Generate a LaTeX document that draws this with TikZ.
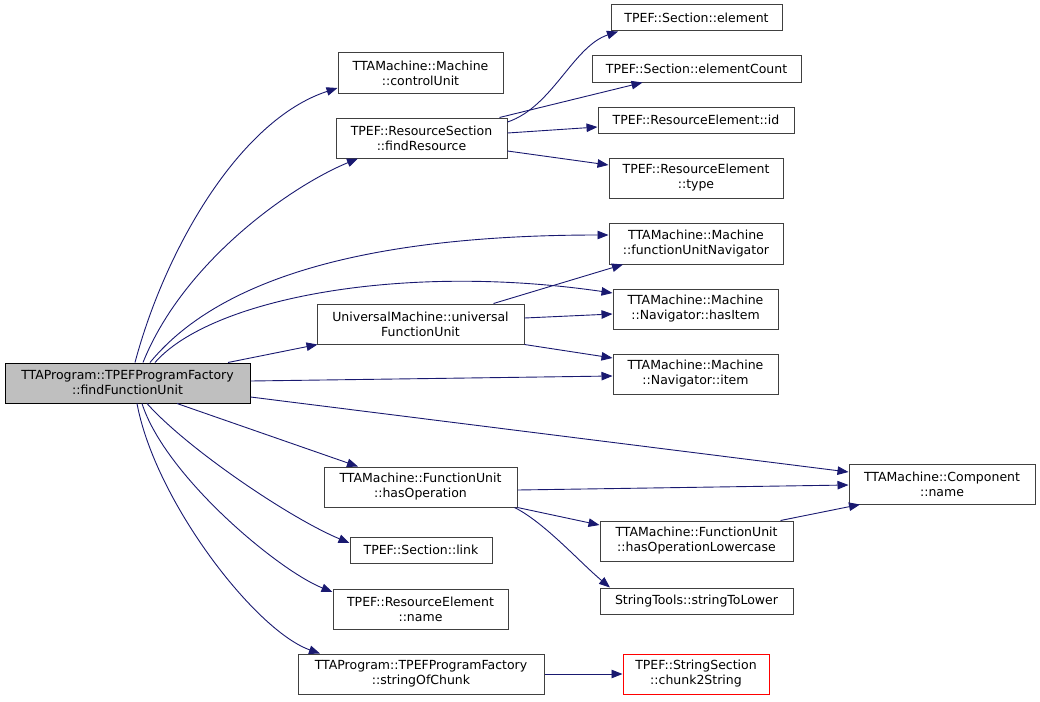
\documentclass[tikz,border=0pt]{standalone}
\usepackage{fontspec}
\setmainfont{DejaVu Sans}
\usetikzlibrary{arrows.meta}
\definecolor{edgeblue}{RGB}{25,25,112}
\definecolor{boxgray}{RGB}{64,64,64}
\definecolor{maingray}{RGB}{191,191,191}

\begin{document}
\begin{tikzpicture}[x=1pt, y=-1pt]
        \tikzstyle{fn} = [rectangle, inner sep=0pt, text centered, align=center, draw=boxgray, line width=1pt, fill=white, font=\fontsize{12.5}{15}\selectfont]
        \tikzstyle{root} = [fn, draw=black, fill=maingray]
        \tikzstyle{undoc} = [fn, draw=red]
        \tikzstyle{arrow} = [edgeblue, line width=0.9pt, -{Triangle[length=11pt, width=8.5pt]}]

        \useasboundingbox (0,0) rectangle (1040,701);

        \node (main) [root, minimum width=245pt, minimum height=40pt] at (127.5,383) {TTAProgram::TPEFProgramFactory\\::findFunctionUnit};
        \node (cu) [fn, minimum width=165pt, minimum height=40pt] at (420.5,73) {TTAMachine::Machine\\::controlUnit};
        \node (fr) [fn, minimum width=171pt, minimum height=40pt] at (421.5,138) {TPEF::ResourceSection\\::findResource};
        \node (el) [fn, minimum width=171pt, minimum height=26pt] at (696.5,18) {TPEF::Section::element};
        \node (ec) [fn, minimum width=209pt, minimum height=26pt] at (696.5,69) {TPEF::Section::elementCount};
        \node (rid) [fn, minimum width=196pt, minimum height=26pt] at (696,120) {TPEF::ResourceElement::id};
        \node (rtype) [fn, minimum width=174pt, minimum height=40pt] at (696,178) {TPEF::ResourceElement\\::type};
        \node (fun) [fn, minimum width=174pt, minimum height=41pt] at (696,243.5) {TTAMachine::Machine\\::functionUnitNavigator};
        \node (hi) [fn, minimum width=165pt, minimum height=40pt] at (695.5,309) {TTAMachine::Machine\\::Navigator::hasItem};
        \node (um) [fn, minimum width=207pt, minimum height=40pt] at (420.5,324) {UniversalMachine::universal\\FunctionUnit};
        \node (it) [fn, minimum width=165pt, minimum height=40pt] at (695.5,374) {TTAMachine::Machine\\::Navigator::item};
        \node (ho) [fn, minimum width=193pt, minimum height=40pt] at (420.5,487) {TTAMachine::FunctionUnit\\::hasOperation};
        \node (cn) [fn, minimum width=186pt, minimum height=40pt] at (942,484) {TTAMachine::Component\\::name};
        \node (hol) [fn, minimum width=193pt, minimum height=40pt] at (696.5,541) {TTAMachine::FunctionUnit\\::hasOperationLowercase};
        \node (lnk) [fn, minimum width=142pt, minimum height=26pt] at (421,550) {TPEF::Section::link};
        \node (stl) [fn, minimum width=193pt, minimum height=26pt] at (696.5,601) {StringTools::stringToLower};
        \node (ren) [fn, minimum width=175pt, minimum height=40pt] at (420.5,609.5) {TPEF::ResourceElement\\::name};
        \node (soc) [fn, minimum width=246pt, minimum height=40pt] at (421,674) {TTAProgram::TPEFProgramFactory\\::stringOfChunk};
        \node (cs) [undoc, minimum width=146pt, minimum height=40pt] at (696,674) {TPEF::StringSection\\::chunk2String};

        % calls of findFunctionUnit
        \draw [arrow] ([xshift=7.5pt]main.north) .. controls +(30,-113) and +(-98,32) .. ([yshift=-15pt]cu.west);
        \draw [arrow] ([xshift=15.5pt]main.north) .. controls +(40,-100) and +(-68,28) .. ([xshift=-63.5pt]fr.south);
        \draw [arrow] ([xshift=22.5pt]main.north) .. controls +(60,-73) and +(-269,0) .. ([yshift=8.5pt]fun.west);
        \draw [arrow] ([xshift=27.5pt]main.north) .. controls +(55,-63) and +(-213,-31) .. ([yshift=16pt]hi.west);
        \draw [arrow] ([xshift=100.5pt]main.north) -- ([xshift=1pt]um.south west);
        \draw [arrow] ([yshift=2pt]main.east) -- ([yshift=-2pt]it.west);
        \draw [arrow] ([yshift=-14pt]main.east) -- ([yshift=12pt]cn.west);
        \draw [arrow] ([xshift=49.5pt]main.south) -- ([xshift=-62.5pt]ho.north);
        \draw [arrow] ([xshift=19.5pt]main.south) .. controls +(40,45) and +(-60,-25) .. ([yshift=7pt]lnk.west);
        \draw [arrow] ([xshift=14.5pt]main.south) .. controls +(23,72) and +(-55,-22) .. ([yshift=17.5pt]ren.west);
        \draw [arrow] ([xshift=9.5pt]main.south) .. controls +(18,97) and +(-65,-23) .. ([xshift=-101pt]soc.north);

        % second level
        \draw [arrow] ([yshift=16pt]fr.east) .. controls +(45,-15) and +(-45,15) .. ([xshift=-78.5pt]el.south);
        \draw [arrow] ([xshift=78pt]fr.north) -- ([xshift=-54pt]ec.south);
        \draw [arrow] ([yshift=5pt]fr.east) -- ([yshift=-7pt]rid.west);
        \draw [arrow] ([yshift=-13pt]fr.east) -- ([yshift=13pt]rtype.west);
        \draw [arrow] ([xshift=73pt]um.north) -- ([xshift=-73pt]fun.south);
        \draw [arrow] ([yshift=6pt]um.east) -- ([yshift=-5pt]hi.west);
        \draw [arrow] (um.south east) -- ([yshift=16pt]it.west);
        \draw [arrow] ([yshift=-3pt]ho.east) -- ([yshift=-1pt]cn.west);
        \draw [arrow] (ho.south east) -- ([yshift=16pt]hol.west);
        \draw [arrow] ([xshift=-3pt]ho.south east) .. controls +(30,15) and +(-30,-25) .. ([xshift=-86.5pt]stl.north);
        \draw [arrow] ([xshift=84pt]hol.north) -- ([xshift=-82pt]cn.south);
        \draw [arrow] (soc.east) -- (cs.west);
    \end{tikzpicture}
\end{document}
